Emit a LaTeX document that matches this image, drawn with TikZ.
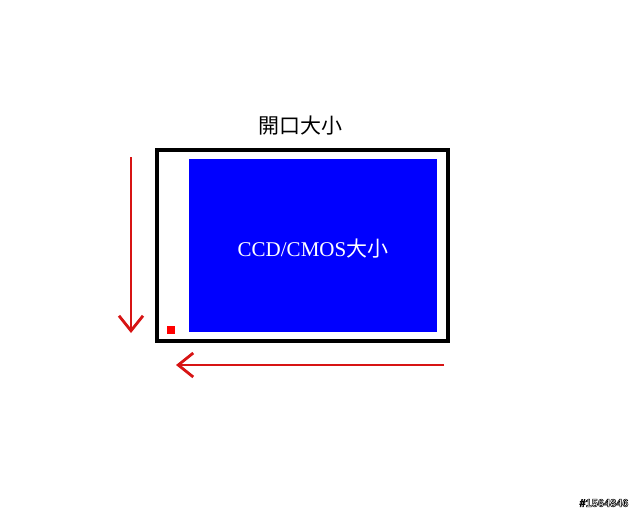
\documentclass[tikz,border=0pt]{standalone}
\usepackage{fontspec}
\setmainfont{Liberation Serif}
\newfontfamily\cjk{Noto Sans CJK TC}
\newfontfamily\wmfont{Liberation Sans}
\usetikzlibrary{arrows.meta}
\definecolor{blueccd}{RGB}{0,0,255}
\definecolor{redarrow}{RGB}{215,20,20}
\tikzset{
  redarr/.style={draw=redarrow, line width=2.8pt, -{Straight Barb[length=15pt,width=24pt,line width=2.8pt]}},
  wm/.style={font=\wmfont\bfseries\fontsize{11}{11}\selectfont, inner sep=0pt}
}
\begin{document}
\begin{tikzpicture}[x=1pt,y=-1pt]
\useasboundingbox (0,0) rectangle (640,512);
\fill[white] (0,0) rectangle (640,512);
% outer aperture box
\draw[line width=4pt] (157,150) rectangle (448,341);
% sensor
\fill[blueccd] (189,159) rectangle (437,332);
\node (ccd) at (313,249) [text=white, font=\fontsize{21}{21}\selectfont, inner sep=0pt] {CCD/CMOS{\cjk 大小}};
% title
\node (title) at (300,126) [font=\cjk\fontsize{21}{21}\selectfont, inner sep=0pt] {開口大小};
% red square
\fill[red] (167,326) rectangle (175,334);
% arrows
\coordinate (vtop) at (131,157);
\coordinate (vbot) at (131,333);
\coordinate (hr) at (444,365);
\coordinate (hl) at (176,365);
\draw[redarr] (vtop) -- (vbot);
\draw[redarr] (hr) -- (hl);
% watermark (outlined text)
\node (wm) [wm, text=white] at (604,503) {\special{pdf:literal direct 0 G 0.5 w 2 Tr}\#1564846\special{pdf:literal direct 0 Tr}};
\end{tikzpicture}
\end{document}
